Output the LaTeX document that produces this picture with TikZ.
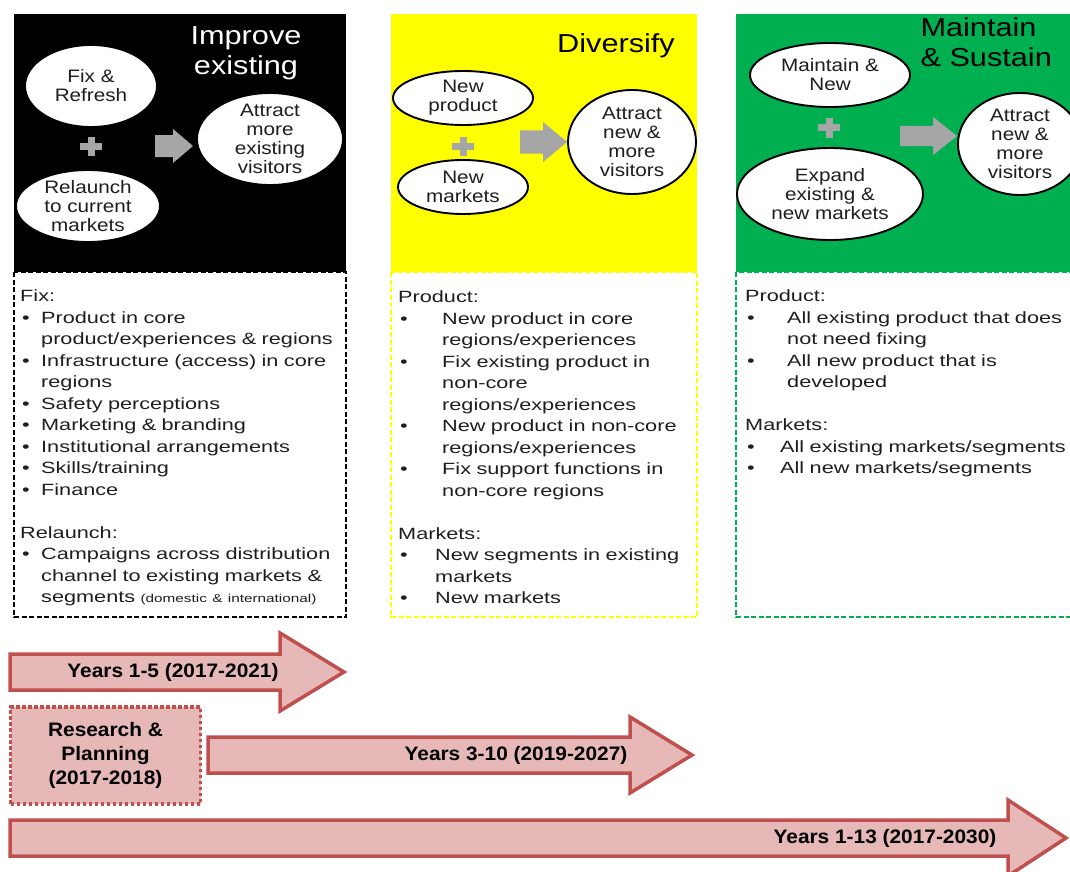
\documentclass[tikz,border=0pt]{standalone}
\usepackage{fontspec}
\setmainfont{Liberation Sans}
\newfontfamily\bodyfont[FakeStretch=1.33]{Liberation Sans}
\newfontfamily\blobfont[FakeStretch=1.15]{Liberation Sans}
\newfontfamily\headfont[FakeStretch=1.18]{Liberation Sans}
\newfontfamily\yearfont[FakeStretch=1.07]{Liberation Sans}
\usetikzlibrary{shapes.geometric,positioning}
\definecolor{grn}{RGB}{0,176,80}
\definecolor{ylw}{RGB}{255,255,0}
\definecolor{pinkfill}{RGB}{230,184,183}
\definecolor{redline}{RGB}{192,80,77}
\definecolor{plusgray}{RGB}{166,166,166}
\definecolor{txt}{RGB}{30,30,30}
\setlength{\parindent}{0pt}
\newcommand{\bul}[1]{\makebox[#1][l]{\hspace{2pt}•}}

\begin{document}
\begin{tikzpicture}[x=1pt,y=-1pt,
  blob/.style={ellipse,draw,line width=1.9pt,fill=white,inner sep=-6pt,align=center,text=txt,font=\blobfont\fontsize{18}{19}\selectfont},
  head/.style={font=\headfont\fontsize{26}{30}\selectfont,align=center},
  listtext/.style={anchor=north west,inner sep=0pt,text width=340pt,align=left,text=txt,font=\bodyfont\fontsize{16.3}{21.5}\selectfont},
  timearrow/.style={draw=redline,line width=3.5pt,fill=pinkfill,line join=miter},
  yeartext/.style={font=\yearfont\bfseries\fontsize{19.5}{24}\selectfont,align=center}]
 \useasboundingbox (0,0) rectangle (1070,872);
 % Improve existing
 \draw[dash pattern=on 5pt off 2.5pt,line width=1.6pt] (14,272) rectangle (346,617);
 \fill (14,14) rectangle (346,272);
 \node[head,text=white] (improve) at (246,53) {Improve\\existing};
 \node[blob,minimum width=132pt,minimum height=82pt] (fix) at (91,86) {Fix \&\\Refresh};
 \node[blob,minimum width=144pt,minimum height=72pt] (relaunch) at (88,206) {Relaunch\\to current\\markets};
 \node[blob,minimum width=146pt,minimum height=92pt] (attract1) at (270,139) {Attract\\more\\existing\\visitors};
 \node[listtext] (fixlist) at (20,289.5) {Fix:\\
  \bul{21pt}Product in core\\
  \hspace*{21pt}product/experiences \& regions\\
  \bul{21pt}Infrastructure (access) in core\\
  \hspace*{21pt}regions\\
  \bul{21pt}Safety perceptions\\
  \bul{21pt}Marketing \& branding\\
  \bul{21pt}Institutional arrangements\\
  \bul{21pt}Skills/training\\
  \bul{21pt}Finance\\[21.5pt]
  Relaunch:\\
  \bul{21pt}Campaigns across distribution\\
  \hspace*{21pt}channel to existing markets \&\\
  \hspace*{21pt}segments {\fontsize{11.5}{12}\selectfont (domestic \& international)}};
 % Diversify
 \draw[ylw,dash pattern=on 5pt off 2.5pt,line width=1.5pt] (391,272) rectangle (697,617);
 \fill[ylw] (391,14) rectangle (697,272);
 \node[head] (diversify) at (616,46) {Diversify};
 \node[blob,minimum width=140pt,minimum height=54pt] (newprod) at (463,98) {New\\product};
 \node[blob,minimum width=130pt,minimum height=54pt] (newmkt) at (463,187) {New\\markets};
 \node[blob,minimum width=128pt,minimum height=104pt] (attract2) at (632,142) {Attract\\new \&\\more\\visitors};
 \node[listtext] (divlist) at (398,290.5) {Product:\\
  \bul{44pt}New product in core\\
  \hspace*{44pt}regions/experiences\\
  \bul{44pt}Fix existing product in\\
  \hspace*{44pt}non-core\\
  \hspace*{44pt}regions/experiences\\
  \bul{44pt}New product in non-core\\
  \hspace*{44pt}regions/experiences\\
  \bul{44pt}Fix support functions in\\
  \hspace*{44pt}non-core regions\\[21.5pt]
  Markets:\\
  \bul{37pt}New segments in existing\\
  \hspace*{37pt}markets\\
  \bul{37pt}New markets};
 % Maintain & Sustain
 \draw[grn,dash pattern=on 5pt off 2.5pt,line width=1.5pt] (736,272) rectangle (1085,617);
 \fill[grn] (736,14) rectangle (1075,272);
 \node[head,anchor=west,align=left] (maintain) at (917,42) {Maintain\\\& Sustain};
 \node[blob,minimum width=160pt,minimum height=64pt] (maintnew) at (830,75) {Maintain \&\\New};
 \node[blob,minimum width=186pt,minimum height=92pt] (expand) at (830,194) {Expand\\existing \&\\new markets};
 \node[blob,minimum width=124pt,minimum height=102pt] (attract3) at (1020,144) {Attract\\new \&\\more\\visitors};
 \node[listtext] (sustlist) at (745,289.5) {Product:\\
  \bul{42pt}All existing product that does\\
  \hspace*{42pt}not need fixing\\
  \bul{42pt}All new product that is\\
  \hspace*{42pt}developed\\[21.5pt]
  Markets:\\
  \bul{35pt}All existing markets/segments\\
  \bul{35pt}All new markets/segments};
 % plus signs and block arrows
 \foreach \x/\y in {91/146, 463/146, 829/128}{
   \fill[plusgray] (\x-11,\y-3.5) rectangle (\x+11,\y+3.5);
   \fill[plusgray] (\x-3.5,\y-9.5) rectangle (\x+3.5,\y+9.5);
 }
 \foreach \a/\y/\b/\t/\s/\h in {155/146/173/193/11/17, 520/142/543/567/11.5/20, 900/136/933/957/10/19}{
   \fill[plusgray] (\a,\y-\s) -- (\b,\y-\s) -- (\b,\y-\h) -- (\t,\y) -- (\b,\y+\h) -- (\b,\y+\s) -- (\a,\y+\s) -- cycle;
 }
 % timeline
 \draw[timearrow] (10,654) -- (280,654) -- (280,633) -- (344,672) -- (280,711) -- (280,690) -- (10,690) -- cycle;
 \node[yeartext] (years1) at (173,672) {Years 1-5 (2017-2021)};
 \node[draw=redline,line width=3.5pt,dash pattern=on 3.5pt off 2.5pt,fill=pinkfill,minimum width=190pt,minimum height=97pt,yeartext] (research) at (105.5,755.5) {Research \&\\Planning\\(2017-2018)};
 \draw[timearrow] (208,737) -- (630,737) -- (630,717) -- (692,755) -- (630,793) -- (630,773) -- (208,773) -- cycle;
 \node[yeartext] (years2) at (516,755) {Years 3-10 (2019-2027)};
 \draw[timearrow] (10,820) -- (1008,820) -- (1008,800) -- (1066,838) -- (1008,876) -- (1008,856) -- (10,856) -- cycle;
 \node[yeartext] (years3) at (885,838) {Years 1-13 (2017-2030)};
\end{tikzpicture}
\end{document}
